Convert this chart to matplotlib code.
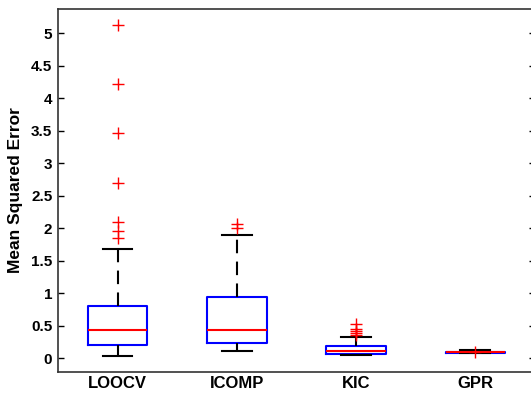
import numpy as np
import matplotlib.pyplot as plt

plt.rcParams['font.family'] = ['Liberation Sans', 'DejaVu Sans']
plt.rcParams['font.weight'] = 'bold'

# box statistics
labels = ['LOOCV', 'ICOMP', 'KIC', 'GPR']
q1 = [0.20, 0.225, 0.065, 0.085]
med = [0.435, 0.425, 0.11, 0.095]
q3 = [0.80, 0.94, 0.185, 0.10]
whislo = [0.035, 0.11, 0.05, 0.08]
whishi = [1.68, 1.89, 0.32, 0.12]
outliers = [
    [5.12, 4.22, 3.47, 2.70, 2.09, 1.95, 1.84],
    [2.06, 2.00],
    [0.53, 0.45, 0.415, 0.39, 0.36],
    [0.10],
]

stats = []
for i in range(len(labels)):
    stats.append(dict(label=labels[i], q1=q1[i], med=med[i], q3=q3[i],
                      whislo=whislo[i], whishi=whishi[i], fliers=outliers[i]))

fig = plt.figure(figsize=(5.31, 3.93), dpi=100)
ax = fig.add_axes([0.109, 0.0534, 0.8985, 0.9236])

ax.bxp(stats, widths=0.5, showfliers=True,
       boxprops=dict(color='blue', linewidth=1.5),
       medianprops=dict(color='red', linewidth=1.5),
       whiskerprops=dict(color='black', linewidth=1.5, linestyle=(0, (6.5, 4))),
       capprops=dict(color='black', linewidth=1.5),
       flierprops=dict(marker='+', markeredgecolor='red', markersize=8,
                       markeredgewidth=1.0, linestyle='none'))

ax.set_xlim(0.5, 4.5)
ax.set_ylim(-0.215, 5.37)
ax.set_yticks(np.arange(0, 5.01, 0.5))
ax.set_yticklabels(['0', '0.5', '1', '1.5', '2', '2.5', '3', '3.5', '4', '4.5', '5'])
ax.tick_params(axis='y', direction='in', length=4, width=1, labelsize=11,
               right=True, left=True, colors='black', pad=4)
ax.tick_params(axis='x', length=0, labelsize=12, pad=3)
ax.set_ylabel('Mean Squared Error', fontsize=12.5, fontweight='bold', labelpad=6)
for s in ax.spines.values():
    s.set_color('#333333')
    s.set_linewidth(1.2)

plt.savefig('out.png', dpi=100)
